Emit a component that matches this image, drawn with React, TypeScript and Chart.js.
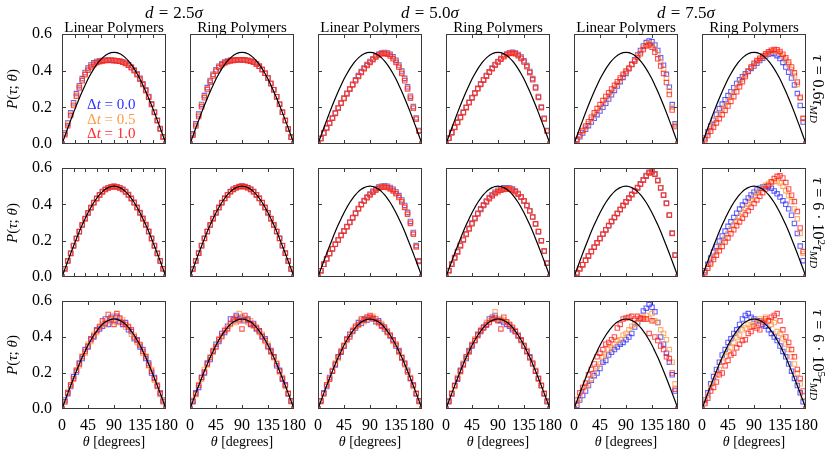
import React, { useEffect, useRef } from "react";
import { Chart, registerables } from "chart.js";

Chart.register(...registerables);

// ---------- data ----------
const THETA = [0, 5, 10, 15, 20, 25, 30, 35, 40, 45, 50, 55, 60, 65, 70, 75, 80, 85, 90, 95, 100, 105, 110, 115, 120, 125, 130, 135, 140, 145, 150, 155, 160, 165, 170, 175, 180];
const REF = [0, 0.044, 0.087, 0.129, 0.171, 0.211, 0.25, 0.287, 0.321, 0.354, 0.383, 0.41, 0.433, 0.453, 0.47, 0.483, 0.492, 0.498, 0.5, 0.498, 0.492, 0.483, 0.47, 0.453, 0.433, 0.41, 0.383, 0.354, 0.321, 0.287, 0.25, 0.211, 0.171, 0.129, 0.087, 0.044, 0];

const X_TICKS = [0, 45, 90, 135, 180];
const Y_TICKS = [0, 0.2, 0.4, 0.6];
const X_MARKS = [45, 90, 135];
const X_MARKS_R1C1 = [22.5, 45, 67.5, 90, 112.5, 135, 157.5];
const X_MARKS_R2C1 = [20, 40, 60, 80, 100, 120, 140, 160];
const Y_MARKS = [0.2, 0.4];

const COLUMN_TITLES = ["Linear Polymers", "Ring Polymers", "Linear Polymers", "Ring Polymers", "Linear Polymers", "Ring Polymers"];
const D_VALUES = ["2.5", "5.0", "7.5"];
const DT_VALUES = ["0.0", "0.5", "1.0"];

// row 1: tau = 0.6 tau_MD
const B11 = [0, 0.06, 0.115, 0.17, 0.225, 0.275, 0.318, 0.357, 0.39, 0.414, 0.431, 0.443, 0.45, 0.454, 0.456, 0.457, 0.457, 0.456, 0.455, 0.454, 0.451, 0.447, 0.441, 0.432, 0.42, 0.404, 0.383, 0.358, 0.329, 0.296, 0.259, 0.219, 0.175, 0.13, 0.084, 0.04, 0];
const O11 = [0, 0.055, 0.108, 0.162, 0.217, 0.267, 0.311, 0.351, 0.384, 0.408, 0.425, 0.438, 0.446, 0.451, 0.454, 0.456, 0.457, 0.457, 0.456, 0.454, 0.451, 0.446, 0.44, 0.43, 0.418, 0.401, 0.38, 0.355, 0.326, 0.293, 0.257, 0.217, 0.173, 0.128, 0.083, 0.039, 0];
const R11 = [0, 0.05, 0.1, 0.155, 0.21, 0.26, 0.305, 0.345, 0.378, 0.402, 0.42, 0.434, 0.443, 0.449, 0.453, 0.456, 0.457, 0.457, 0.456, 0.454, 0.451, 0.446, 0.439, 0.429, 0.416, 0.399, 0.378, 0.353, 0.324, 0.291, 0.255, 0.215, 0.172, 0.127, 0.082, 0.038, 0];

const B12 = [0, 0.056, 0.11, 0.163, 0.216, 0.264, 0.308, 0.347, 0.38, 0.405, 0.424, 0.438, 0.447, 0.453, 0.457, 0.459, 0.46, 0.46, 0.459, 0.458, 0.456, 0.452, 0.446, 0.437, 0.424, 0.407, 0.386, 0.36, 0.33, 0.296, 0.258, 0.217, 0.173, 0.128, 0.082, 0.038, 0];
const O12 = [0, 0.052, 0.104, 0.157, 0.21, 0.258, 0.302, 0.342, 0.376, 0.401, 0.42, 0.435, 0.444, 0.451, 0.455, 0.457, 0.459, 0.459, 0.459, 0.458, 0.456, 0.452, 0.446, 0.437, 0.424, 0.407, 0.386, 0.36, 0.33, 0.296, 0.258, 0.217, 0.173, 0.128, 0.082, 0.038, 0];
const R12 = [0, 0.048, 0.098, 0.15, 0.203, 0.252, 0.297, 0.337, 0.371, 0.397, 0.417, 0.432, 0.442, 0.449, 0.453, 0.456, 0.458, 0.459, 0.459, 0.458, 0.456, 0.452, 0.446, 0.437, 0.424, 0.407, 0.386, 0.36, 0.33, 0.296, 0.258, 0.217, 0.173, 0.128, 0.082, 0.038, 0];

const B13 = [0, 0.03, 0.06, 0.088, 0.115, 0.142, 0.17, 0.198, 0.225, 0.251, 0.277, 0.302, 0.326, 0.35, 0.373, 0.395, 0.415, 0.433, 0.45, 0.465, 0.478, 0.489, 0.496, 0.499, 0.497, 0.489, 0.476, 0.457, 0.431, 0.398, 0.358, 0.312, 0.261, 0.204, 0.142, 0.074, 0];
const O13 = [0, 0.03, 0.06, 0.088, 0.114, 0.141, 0.168, 0.196, 0.223, 0.25, 0.275, 0.3, 0.324, 0.347, 0.37, 0.392, 0.412, 0.43, 0.447, 0.462, 0.476, 0.487, 0.494, 0.497, 0.494, 0.485, 0.47, 0.451, 0.425, 0.392, 0.352, 0.306, 0.256, 0.2, 0.139, 0.072, 0];
const R13 = [0, 0.03, 0.06, 0.087, 0.113, 0.14, 0.167, 0.195, 0.222, 0.248, 0.273, 0.298, 0.322, 0.345, 0.368, 0.39, 0.41, 0.428, 0.445, 0.46, 0.474, 0.485, 0.492, 0.494, 0.49, 0.48, 0.465, 0.445, 0.418, 0.385, 0.345, 0.3, 0.25, 0.195, 0.135, 0.07, 0];

const B14 = [0, 0.032, 0.063, 0.092, 0.12, 0.147, 0.174, 0.201, 0.228, 0.254, 0.279, 0.304, 0.328, 0.351, 0.373, 0.394, 0.414, 0.433, 0.45, 0.466, 0.48, 0.491, 0.498, 0.5, 0.497, 0.488, 0.474, 0.454, 0.428, 0.396, 0.357, 0.311, 0.259, 0.202, 0.14, 0.073, 0];
const O14 = [0, 0.031, 0.062, 0.091, 0.118, 0.145, 0.172, 0.199, 0.226, 0.252, 0.277, 0.302, 0.326, 0.349, 0.371, 0.392, 0.412, 0.431, 0.448, 0.464, 0.478, 0.489, 0.496, 0.498, 0.494, 0.485, 0.47, 0.45, 0.424, 0.392, 0.353, 0.308, 0.256, 0.2, 0.138, 0.072, 0];
const R14 = [0, 0.031, 0.062, 0.09, 0.117, 0.144, 0.171, 0.198, 0.225, 0.251, 0.276, 0.301, 0.325, 0.348, 0.37, 0.391, 0.411, 0.43, 0.447, 0.462, 0.476, 0.487, 0.494, 0.496, 0.492, 0.482, 0.467, 0.447, 0.421, 0.389, 0.35, 0.305, 0.254, 0.198, 0.137, 0.071, 0];

const B15 = [0, 0.02, 0.04, 0.06, 0.08, 0.1, 0.12, 0.14, 0.16, 0.18, 0.2, 0.222, 0.245, 0.268, 0.292, 0.316, 0.34, 0.363, 0.385, 0.41, 0.435, 0.46, 0.485, 0.51, 0.535, 0.553, 0.562, 0.558, 0.54, 0.51, 0.47, 0.43, 0.38, 0.31, 0.215, 0.11, 0];
const O15 = [0, 0.022, 0.045, 0.067, 0.089, 0.111, 0.133, 0.155, 0.176, 0.197, 0.218, 0.24, 0.262, 0.284, 0.306, 0.328, 0.35, 0.371, 0.391, 0.412, 0.434, 0.456, 0.478, 0.501, 0.525, 0.544, 0.551, 0.543, 0.52, 0.488, 0.45, 0.408, 0.358, 0.29, 0.2, 0.102, 0];
const R15 = [0, 0.025, 0.05, 0.074, 0.098, 0.122, 0.146, 0.17, 0.193, 0.215, 0.237, 0.259, 0.28, 0.3, 0.32, 0.34, 0.36, 0.38, 0.398, 0.415, 0.433, 0.452, 0.47, 0.492, 0.515, 0.535, 0.54, 0.528, 0.5, 0.465, 0.425, 0.385, 0.335, 0.27, 0.185, 0.095, 0];

const B16 = [0, 0.033, 0.066, 0.098, 0.13, 0.162, 0.193, 0.218, 0.242, 0.264, 0.285, 0.307, 0.33, 0.35, 0.367, 0.383, 0.398, 0.412, 0.425, 0.44, 0.455, 0.468, 0.48, 0.49, 0.495, 0.492, 0.482, 0.466, 0.445, 0.42, 0.392, 0.36, 0.322, 0.275, 0.21, 0.12, 0];
const O16 = [0, 0.028, 0.056, 0.083, 0.11, 0.137, 0.164, 0.188, 0.212, 0.236, 0.259, 0.283, 0.308, 0.332, 0.355, 0.377, 0.398, 0.418, 0.434, 0.449, 0.462, 0.474, 0.486, 0.497, 0.505, 0.508, 0.505, 0.496, 0.479, 0.458, 0.434, 0.405, 0.372, 0.325, 0.25, 0.138, 0];
const R16 = [0, 0.023, 0.046, 0.069, 0.092, 0.115, 0.138, 0.16, 0.183, 0.207, 0.232, 0.258, 0.285, 0.312, 0.34, 0.368, 0.396, 0.42, 0.44, 0.455, 0.468, 0.48, 0.492, 0.503, 0.512, 0.516, 0.514, 0.505, 0.49, 0.47, 0.447, 0.42, 0.388, 0.338, 0.255, 0.14, 0];

// row 2: tau = 6e2 tau_MD
const B21 = [0, 0.046, 0.089, 0.131, 0.173, 0.213, 0.251, 0.288, 0.322, 0.354, 0.383, 0.41, 0.433, 0.453, 0.47, 0.483, 0.492, 0.497, 0.499, 0.497, 0.492, 0.483, 0.47, 0.454, 0.434, 0.411, 0.384, 0.355, 0.323, 0.289, 0.252, 0.213, 0.173, 0.131, 0.089, 0.046, 0];
const O21 = [0, 0.045, 0.089, 0.13, 0.172, 0.212, 0.25, 0.287, 0.321, 0.353, 0.382, 0.409, 0.432, 0.452, 0.469, 0.482, 0.491, 0.497, 0.499, 0.497, 0.491, 0.482, 0.469, 0.452, 0.432, 0.409, 0.382, 0.353, 0.321, 0.287, 0.25, 0.212, 0.172, 0.13, 0.089, 0.045, 0];
const R21 = [0, 0.045, 0.088, 0.13, 0.171, 0.211, 0.249, 0.286, 0.32, 0.352, 0.381, 0.408, 0.431, 0.451, 0.468, 0.481, 0.49, 0.496, 0.498, 0.496, 0.49, 0.481, 0.468, 0.451, 0.431, 0.408, 0.381, 0.352, 0.32, 0.286, 0.249, 0.211, 0.171, 0.13, 0.088, 0.045, 0];

const B22 = [0, 0.045, 0.089, 0.132, 0.173, 0.213, 0.251, 0.287, 0.322, 0.354, 0.383, 0.41, 0.433, 0.453, 0.47, 0.483, 0.492, 0.498, 0.501, 0.498, 0.492, 0.483, 0.47, 0.453, 0.433, 0.41, 0.383, 0.354, 0.322, 0.287, 0.251, 0.213, 0.173, 0.132, 0.089, 0.045, 0];
const O22 = [0, 0.044, 0.088, 0.131, 0.172, 0.212, 0.25, 0.287, 0.321, 0.353, 0.382, 0.409, 0.432, 0.452, 0.469, 0.482, 0.491, 0.497, 0.5, 0.497, 0.491, 0.482, 0.469, 0.452, 0.432, 0.409, 0.382, 0.353, 0.321, 0.287, 0.25, 0.212, 0.172, 0.131, 0.088, 0.044, 0];
const R22 = [0, 0.044, 0.088, 0.131, 0.172, 0.212, 0.25, 0.286, 0.321, 0.353, 0.382, 0.409, 0.432, 0.452, 0.469, 0.482, 0.491, 0.497, 0.5, 0.497, 0.491, 0.482, 0.469, 0.452, 0.432, 0.409, 0.382, 0.353, 0.321, 0.286, 0.25, 0.212, 0.172, 0.131, 0.088, 0.044, 0];

const B23 = [0, 0.035, 0.07, 0.1, 0.13, 0.156, 0.181, 0.205, 0.23, 0.254, 0.278, 0.302, 0.327, 0.352, 0.377, 0.4, 0.421, 0.44, 0.457, 0.472, 0.485, 0.495, 0.5, 0.501, 0.499, 0.493, 0.483, 0.468, 0.448, 0.424, 0.394, 0.356, 0.306, 0.245, 0.173, 0.09, 0];
const O23 = [0, 0.035, 0.07, 0.1, 0.13, 0.155, 0.18, 0.204, 0.229, 0.253, 0.277, 0.301, 0.326, 0.351, 0.376, 0.399, 0.419, 0.438, 0.454, 0.469, 0.481, 0.491, 0.497, 0.498, 0.495, 0.489, 0.478, 0.463, 0.442, 0.418, 0.388, 0.35, 0.3, 0.24, 0.169, 0.087, 0];
const R23 = [0, 0.035, 0.07, 0.1, 0.13, 0.155, 0.18, 0.203, 0.228, 0.252, 0.276, 0.3, 0.325, 0.35, 0.375, 0.398, 0.418, 0.436, 0.452, 0.466, 0.478, 0.488, 0.494, 0.495, 0.492, 0.485, 0.474, 0.458, 0.437, 0.413, 0.383, 0.345, 0.295, 0.235, 0.165, 0.085, 0];

const B24 = [0, 0.036, 0.072, 0.107, 0.141, 0.175, 0.207, 0.238, 0.268, 0.297, 0.325, 0.351, 0.376, 0.398, 0.418, 0.437, 0.453, 0.467, 0.478, 0.486, 0.491, 0.492, 0.49, 0.484, 0.474, 0.46, 0.442, 0.42, 0.394, 0.364, 0.33, 0.292, 0.249, 0.2, 0.143, 0.076, 0];
const O24 = [0, 0.035, 0.071, 0.105, 0.139, 0.173, 0.205, 0.236, 0.266, 0.295, 0.323, 0.349, 0.373, 0.395, 0.415, 0.434, 0.45, 0.463, 0.473, 0.481, 0.486, 0.488, 0.486, 0.481, 0.471, 0.458, 0.44, 0.419, 0.393, 0.364, 0.33, 0.292, 0.25, 0.2, 0.143, 0.076, 0];
const R24 = [0, 0.035, 0.07, 0.104, 0.138, 0.171, 0.203, 0.234, 0.264, 0.293, 0.321, 0.347, 0.371, 0.393, 0.413, 0.431, 0.446, 0.459, 0.469, 0.477, 0.482, 0.484, 0.483, 0.478, 0.469, 0.456, 0.439, 0.418, 0.393, 0.364, 0.331, 0.293, 0.25, 0.2, 0.143, 0.076, 0];

const B25 = [0, 0.022, 0.045, 0.068, 0.092, 0.116, 0.14, 0.164, 0.188, 0.212, 0.236, 0.259, 0.282, 0.305, 0.328, 0.35, 0.372, 0.393, 0.414, 0.435, 0.455, 0.474, 0.493, 0.513, 0.536, 0.559, 0.576, 0.582, 0.568, 0.533, 0.492, 0.452, 0.407, 0.342, 0.242, 0.121, 0];
const O25 = [0, 0.022, 0.045, 0.068, 0.092, 0.116, 0.14, 0.164, 0.188, 0.212, 0.236, 0.26, 0.283, 0.306, 0.328, 0.35, 0.372, 0.393, 0.413, 0.434, 0.454, 0.473, 0.491, 0.511, 0.533, 0.556, 0.573, 0.579, 0.566, 0.531, 0.491, 0.451, 0.406, 0.341, 0.241, 0.12, 0];
const R25 = [0, 0.022, 0.045, 0.068, 0.092, 0.116, 0.14, 0.164, 0.188, 0.212, 0.236, 0.26, 0.283, 0.306, 0.328, 0.35, 0.372, 0.393, 0.413, 0.433, 0.453, 0.472, 0.49, 0.51, 0.532, 0.555, 0.572, 0.578, 0.565, 0.53, 0.49, 0.45, 0.405, 0.34, 0.24, 0.12, 0];

const B26 = [0, 0.035, 0.07, 0.104, 0.137, 0.168, 0.198, 0.226, 0.253, 0.279, 0.304, 0.328, 0.351, 0.374, 0.396, 0.416, 0.435, 0.452, 0.467, 0.479, 0.489, 0.495, 0.498, 0.496, 0.488, 0.474, 0.458, 0.44, 0.42, 0.4, 0.375, 0.34, 0.295, 0.24, 0.17, 0.09, 0];
const O26 = [0, 0.028, 0.056, 0.083, 0.11, 0.137, 0.164, 0.19, 0.215, 0.24, 0.264, 0.287, 0.31, 0.333, 0.356, 0.378, 0.4, 0.421, 0.442, 0.461, 0.478, 0.493, 0.505, 0.515, 0.522, 0.526, 0.525, 0.518, 0.5, 0.475, 0.447, 0.415, 0.375, 0.32, 0.24, 0.13, 0];
const R26 = [0, 0.024, 0.048, 0.072, 0.096, 0.12, 0.144, 0.168, 0.192, 0.215, 0.238, 0.26, 0.282, 0.303, 0.324, 0.344, 0.364, 0.384, 0.404, 0.424, 0.444, 0.464, 0.484, 0.504, 0.524, 0.542, 0.554, 0.557, 0.545, 0.52, 0.485, 0.45, 0.415, 0.36, 0.27, 0.14, 0];

// row 3: tau = 6e5 tau_MD
const B31 = [0, 0.05, 0.085, 0.125, 0.18, 0.205, 0.255, 0.28, 0.33, 0.345, 0.39, 0.4, 0.44, 0.445, 0.46, 0.5, 0.47, 0.51, 0.49, 0.515, 0.485, 0.47, 0.48, 0.44, 0.43, 0.39, 0.385, 0.345, 0.33, 0.28, 0.255, 0.2, 0.175, 0.13, 0.085, 0.05, 0.005];
const O31 = [0.005, 0.04, 0.095, 0.13, 0.165, 0.215, 0.24, 0.295, 0.31, 0.36, 0.375, 0.415, 0.425, 0.46, 0.475, 0.47, 0.5, 0.485, 0.52, 0.48, 0.5, 0.495, 0.455, 0.46, 0.415, 0.41, 0.37, 0.36, 0.31, 0.295, 0.24, 0.22, 0.16, 0.135, 0.08, 0.045, 0];
const R31 = [0, 0.04, 0.09, 0.135, 0.17, 0.215, 0.25, 0.29, 0.32, 0.35, 0.385, 0.405, 0.435, 0.455, 0.49, 0.475, 0.525, 0.5, 0.47, 0.53, 0.505, 0.48, 0.47, 0.455, 0.44, 0.4, 0.38, 0.355, 0.32, 0.29, 0.245, 0.21, 0.17, 0.125, 0.09, 0.04, 0];

const B32 = [0, 0.04, 0.09, 0.12, 0.175, 0.2, 0.255, 0.275, 0.32, 0.36, 0.375, 0.42, 0.425, 0.46, 0.5, 0.49, 0.52, 0.5, 0.51, 0.49, 0.5, 0.47, 0.475, 0.445, 0.435, 0.4, 0.39, 0.35, 0.325, 0.29, 0.24, 0.215, 0.165, 0.135, 0.085, 0.045, 0];
const O32 = [0.005, 0.05, 0.08, 0.135, 0.165, 0.22, 0.245, 0.29, 0.315, 0.35, 0.39, 0.4, 0.44, 0.45, 0.47, 0.49, 0.48, 0.53, 0.495, 0.505, 0.48, 0.49, 0.46, 0.455, 0.425, 0.415, 0.375, 0.36, 0.315, 0.285, 0.255, 0.205, 0.175, 0.125, 0.09, 0.04, 0];
const R32 = [0, 0.045, 0.085, 0.13, 0.175, 0.205, 0.25, 0.285, 0.325, 0.345, 0.385, 0.405, 0.435, 0.445, 0.475, 0.5, 0.51, 0.49, 0.445, 0.52, 0.495, 0.475, 0.465, 0.45, 0.43, 0.405, 0.38, 0.345, 0.32, 0.29, 0.25, 0.21, 0.17, 0.13, 0.085, 0.045, 0];

const B33 = [0, 0.045, 0.09, 0.125, 0.175, 0.21, 0.245, 0.29, 0.315, 0.35, 0.385, 0.415, 0.435, 0.45, 0.48, 0.475, 0.5, 0.495, 0.51, 0.5, 0.485, 0.49, 0.465, 0.445, 0.43, 0.405, 0.385, 0.35, 0.325, 0.285, 0.25, 0.215, 0.17, 0.13, 0.085, 0.045, 0];
const O33 = [0, 0.04, 0.085, 0.13, 0.17, 0.215, 0.255, 0.28, 0.325, 0.355, 0.38, 0.405, 0.44, 0.455, 0.465, 0.49, 0.485, 0.51, 0.5, 0.515, 0.49, 0.475, 0.475, 0.45, 0.435, 0.41, 0.375, 0.355, 0.315, 0.29, 0.245, 0.21, 0.175, 0.125, 0.09, 0.04, 0];
const R33 = [0, 0.045, 0.085, 0.135, 0.165, 0.21, 0.25, 0.29, 0.32, 0.35, 0.39, 0.4, 0.43, 0.46, 0.47, 0.5, 0.495, 0.51, 0.52, 0.505, 0.5, 0.48, 0.46, 0.455, 0.425, 0.41, 0.38, 0.36, 0.32, 0.285, 0.255, 0.205, 0.17, 0.135, 0.085, 0.045, 0];

const B34 = [0, 0.04, 0.085, 0.13, 0.165, 0.215, 0.25, 0.28, 0.325, 0.35, 0.38, 0.415, 0.43, 0.455, 0.47, 0.5, 0.51, 0.52, 0.495, 0.49, 0.48, 0.47, 0.46, 0.44, 0.43, 0.41, 0.38, 0.35, 0.32, 0.29, 0.25, 0.21, 0.17, 0.13, 0.085, 0.04, 0];
const O34 = [0, 0.045, 0.09, 0.125, 0.175, 0.205, 0.255, 0.29, 0.315, 0.36, 0.39, 0.405, 0.44, 0.45, 0.48, 0.49, 0.505, 0.54, 0.5, 0.5, 0.495, 0.48, 0.47, 0.455, 0.435, 0.405, 0.385, 0.355, 0.325, 0.285, 0.25, 0.215, 0.165, 0.13, 0.09, 0.045, 0];
const R34 = [0, 0.045, 0.085, 0.13, 0.17, 0.21, 0.245, 0.29, 0.32, 0.355, 0.38, 0.41, 0.435, 0.45, 0.465, 0.48, 0.5, 0.505, 0.49, 0.445, 0.51, 0.485, 0.47, 0.45, 0.43, 0.405, 0.385, 0.35, 0.32, 0.285, 0.255, 0.21, 0.17, 0.13, 0.085, 0.045, 0];

const B35 = [0, 0.02, 0.05, 0.075, 0.1, 0.13, 0.16, 0.185, 0.2, 0.225, 0.26, 0.27, 0.3, 0.315, 0.33, 0.345, 0.36, 0.37, 0.385, 0.4, 0.42, 0.455, 0.48, 0.5, 0.545, 0.56, 0.58, 0.565, 0.54, 0.48, 0.4, 0.36, 0.31, 0.26, 0.19, 0.1, 0];
const O35 = [0, 0.03, 0.06, 0.1, 0.125, 0.14, 0.17, 0.2, 0.235, 0.25, 0.29, 0.3, 0.33, 0.34, 0.36, 0.38, 0.385, 0.41, 0.42, 0.44, 0.46, 0.47, 0.48, 0.5, 0.51, 0.52, 0.5, 0.53, 0.49, 0.48, 0.44, 0.42, 0.385, 0.33, 0.26, 0.14, 0];
const R35 = [0, 0.05, 0.09, 0.12, 0.145, 0.19, 0.22, 0.25, 0.29, 0.31, 0.33, 0.36, 0.37, 0.385, 0.4, 0.45, 0.47, 0.5, 0.505, 0.51, 0.515, 0.5, 0.515, 0.505, 0.5, 0.5, 0.42, 0.49, 0.4, 0.38, 0.35, 0.33, 0.29, 0.28, 0.2, 0.11, 0];

const B36 = [0, 0.05, 0.09, 0.14, 0.18, 0.22, 0.26, 0.3, 0.33, 0.37, 0.39, 0.42, 0.44, 0.47, 0.5, 0.52, 0.53, 0.51, 0.5, 0.49, 0.49, 0.47, 0.46, 0.44, 0.42, 0.4, 0.38, 0.35, 0.32, 0.29, 0.25, 0.21, 0.17, 0.13, 0.09, 0.04, 0];
const O36 = [0, 0.04, 0.075, 0.12, 0.15, 0.19, 0.22, 0.26, 0.29, 0.32, 0.34, 0.37, 0.4, 0.41, 0.44, 0.45, 0.47, 0.46, 0.49, 0.48, 0.5, 0.49, 0.51, 0.49, 0.47, 0.48, 0.43, 0.42, 0.39, 0.36, 0.33, 0.29, 0.25, 0.2, 0.14, 0.07, 0];
const R36 = [0, 0.03, 0.06, 0.1, 0.12, 0.15, 0.19, 0.2, 0.24, 0.27, 0.3, 0.31, 0.34, 0.36, 0.38, 0.385, 0.42, 0.43, 0.46, 0.45, 0.44, 0.48, 0.5, 0.49, 0.51, 0.52, 0.53, 0.49, 0.44, 0.4, 0.37, 0.33, 0.29, 0.22, 0.17, 0.1, 0];

type PanelDef = { row: number; col: number; blue: number[]; orange: number[]; red: number[] };

const PANELS: PanelDef[] = [
  { row: 0, col: 0, blue: B11, orange: O11, red: R11 },
  { row: 0, col: 1, blue: B12, orange: O12, red: R12 },
  { row: 0, col: 2, blue: B13, orange: O13, red: R13 },
  { row: 0, col: 3, blue: B14, orange: O14, red: R14 },
  { row: 0, col: 4, blue: B15, orange: O15, red: R15 },
  { row: 0, col: 5, blue: B16, orange: O16, red: R16 },
  { row: 1, col: 0, blue: B21, orange: O21, red: R21 },
  { row: 1, col: 1, blue: B22, orange: O22, red: R22 },
  { row: 1, col: 2, blue: B23, orange: O23, red: R23 },
  { row: 1, col: 3, blue: B24, orange: O24, red: R24 },
  { row: 1, col: 4, blue: B25, orange: O25, red: R25 },
  { row: 1, col: 5, blue: B26, orange: O26, red: R26 },
  { row: 2, col: 0, blue: B31, orange: O31, red: R31 },
  { row: 2, col: 1, blue: B32, orange: O32, red: R32 },
  { row: 2, col: 2, blue: B33, orange: O33, red: R33 },
  { row: 2, col: 3, blue: B34, orange: O34, red: R34 },
  { row: 2, col: 4, blue: B35, orange: O35, red: R35 },
  { row: 2, col: 5, blue: B36, orange: O36, red: R36 },
];

// ---------- layout / style ----------
const FONT = "'Liberation Serif', 'Times New Roman', serif";
const COL_LEFT = [62, 190, 318, 446, 574, 702];
const ROW_TOP = [34, 168, 301];
const ROW_H = [110, 109, 108];
const PLOT_W = 104;
const PAD_L = 50;
const PAD_R = 16;
const PAD_T = 12;
const PAD_B = 30;

const BLUE = "rgba(45,45,255,0.75)";
const ORANGE = "rgba(255,150,60,0.75)";
const RED = "rgba(255,25,25,0.75)";
const FRAME = "#3a3a3a";

function Panel({ row, col, blue, orange, red }: PanelDef) {
  const ref = useRef<HTMLCanvasElement>(null);
  const plotH = ROW_H[row];
  const W = PAD_L + PLOT_W + PAD_R;
  const H = PAD_T + plotH + PAD_B;

  useEffect(() => {
    const canvas = ref.current;
    if (!canvas) return;
    const showX = row === 2;
    const showY = col === 0;
    const xMarks = col === 0 && row === 0 ? X_MARKS_R1C1 : col === 0 && row === 1 ? X_MARKS_R2C1 : X_MARKS;
    const pts = (vals: number[]) => THETA.map((t, i) => ({ x: t, y: vals[i] }));
    const squares = (vals: number[], color: string) => ({
      data: pts(vals),
      showLine: false,
      pointStyle: "rect",
      pointRadius: 3.1,
      pointBorderWidth: 1.1,
      borderColor: color,
      pointBorderColor: color,
      backgroundColor: "rgba(0,0,0,0)",
      pointBackgroundColor: "rgba(0,0,0,0)",
    });
    const frame = {
      id: "frame",
      afterDatasetsDraw(chart: any) {
        const { ctx, chartArea: a, scales } = chart;
        ctx.save();
        ctx.strokeStyle = FRAME;
        ctx.lineWidth = 1;
        ctx.beginPath();
        for (const v of xMarks) {
          const px = Math.round(scales.x.getPixelForValue(v)) + 0.5;
          ctx.moveTo(px, a.bottom);
          ctx.lineTo(px, a.bottom - 4);
          ctx.moveTo(px, a.top);
          ctx.lineTo(px, a.top + 4);
        }
        for (const v of Y_MARKS) {
          const py = Math.round(scales.y.getPixelForValue(v)) + 0.5;
          ctx.moveTo(a.left, py);
          ctx.lineTo(a.left + 4, py);
          ctx.moveTo(a.right, py);
          ctx.lineTo(a.right - 4, py);
        }
        ctx.stroke();
        ctx.strokeRect(a.left + 0.5, a.top + 0.5, a.right - a.left - 1, a.bottom - a.top - 1);
        ctx.restore();
      },
    };
    const chart = new Chart(canvas, {
      type: "scatter",
      data: {
        datasets: [
          {
            data: pts(REF),
            showLine: true,
            borderColor: "#000",
            borderWidth: 1.2,
            pointRadius: 0,
            cubicInterpolationMode: "monotone",
            fill: false,
          } as any,
          squares(red, RED),
          squares(orange, ORANGE),
          squares(blue, BLUE),
        ],
      },
      options: {
        animation: false,
        responsive: false,
        maintainAspectRatio: false,
        devicePixelRatio: 1,
        events: [],
        layout: { padding: { left: 0, right: PAD_R, top: PAD_T, bottom: 0 } },
        plugins: { legend: { display: false }, tooltip: { enabled: false } },
        scales: {
          x: {
            type: "linear",
            position: "bottom",
            min: 0,
            max: 180,
            grid: { display: false, drawTicks: false },
            border: { display: false },
            afterBuildTicks: (s: any) => {
              s.ticks = X_TICKS.map((v) => ({ value: v }));
            },
            ticks: {
              display: showX,
              autoSkip: false,
              maxRotation: 0,
              padding: 7,
              color: "#000",
              font: { family: FONT, size: 16 },
              callback: (v: any) => String(v),
            },
            afterFit: (s: any) => {
              s.height = PAD_B;
              s.paddingLeft = 0;
              s.paddingRight = 0;
            },
          },
          y: {
            type: "linear",
            position: "left",
            min: 0,
            max: 0.6,
            grid: { display: false, drawTicks: false },
            border: { display: false },
            afterBuildTicks: (s: any) => {
              s.ticks = Y_TICKS.map((v) => ({ value: v }));
            },
            ticks: {
              display: showY,
              autoSkip: false,
              padding: 10,
              color: "#000",
              font: { family: FONT, size: 16 },
              callback: (v: any) => Number(v).toFixed(1),
            },
            afterFit: (s: any) => {
              s.width = PAD_L;
              s.paddingTop = 0;
              s.paddingBottom = 0;
            },
          },
        },
      } as any,
      plugins: [frame],
    });
    return () => chart.destroy();
  }, [row, col, blue, orange, red]);

  return (
    <canvas
      ref={ref}
      width={W}
      height={H}
      style={{ position: "absolute", left: COL_LEFT[col] - PAD_L, top: ROW_TOP[row] - PAD_T, width: W, height: H }}
    />
  );
}

function Txt({ x, y, size = 15, rotate = 0, color = "#000", align = "center", children }: any) {
  const tx = align === "left" ? "0" : "-50%";
  return (
    <div
      style={{
        position: "absolute",
        left: x,
        top: y,
        transform: `translate(${tx},-50%) rotate(${rotate}deg)`,
        fontSize: size,
        color,
        whiteSpace: "nowrap",
        lineHeight: 1,
        fontFamily: FONT,
      }}
    >
      {children}
    </div>
  );
}

const SUB: React.CSSProperties = { fontSize: "0.7em", fontStyle: "italic", verticalAlign: "-0.3em", lineHeight: 0 };
const SUP: React.CSSProperties = { fontSize: "0.7em", verticalAlign: "0.45em", lineHeight: 0 };
const EQ: React.CSSProperties = { margin: "0 0.3em" };

export default function App() {
  useEffect(() => {
    document.body.style.margin = "0";
  }, []);
  const LEGEND_COLORS = ["#3030ff", "#ff9a40", "#ff2a2a"];
  const TAU_EXP = [null, "2", "5"];
  return (
    <div style={{ position: "relative", width: 831, height: 462, background: "#fff", overflow: "hidden", fontFamily: FONT }}>
      {PANELS.map((p) => (
        <Panel key={`${p.row}-${p.col}`} {...p} />
      ))}
      {D_VALUES.map((d, i) => (
        <Txt key={"d" + i} x={(COL_LEFT[2 * i] + COL_LEFT[2 * i + 1] + PLOT_W) / 2 - 4} y={12} size={17}>
          <i>d</i>
          <span style={EQ}>=</span>
          {d}
          <i>σ</i>
        </Txt>
      ))}
      {COLUMN_TITLES.map((t, i) => (
        <Txt key={"c" + i} x={COL_LEFT[i] + PLOT_W / 2} y={27} size={15}>
          {t}
        </Txt>
      ))}
      {ROW_TOP.map((top, r) => (
        <Txt key={"p" + r} x={12} y={top + ROW_H[r] / 2} size={15} rotate={-90}>
          <i>P</i>(<i>τ</i>; <i>θ</i>)
        </Txt>
      ))}
      {ROW_TOP.map((top, r) => (
        <Txt key={"t" + r} x={818} y={top + ROW_H[r] / 2} size={16} rotate={90}>
          {r === 0 ? (
            <>
              <i>τ</i>
              <span style={EQ}>=</span>0.6<i>τ</i>
              <span style={SUB}>MD</span>
            </>
          ) : (
            <>
              <i>τ</i>
              <span style={EQ}>=</span>6 · 10<span style={SUP}>{TAU_EXP[r]}</span>
              <i>τ</i>
              <span style={SUB}>MD</span>
            </>
          )}
        </Txt>
      ))}
      {COL_LEFT.map((l, i) => (
        <Txt key={"x" + i} x={l + PLOT_W / 2} y={442} size={14}>
          <i>θ</i> [degrees]
        </Txt>
      ))}
      {DT_VALUES.map((v, i) => (
        <Txt key={"l" + i} x={87} y={104 + i * 14.5} size={15} color={LEGEND_COLORS[i]} align="left">
          Δ<i>t</i> = {v}
        </Txt>
      ))}
    </div>
  );
}
